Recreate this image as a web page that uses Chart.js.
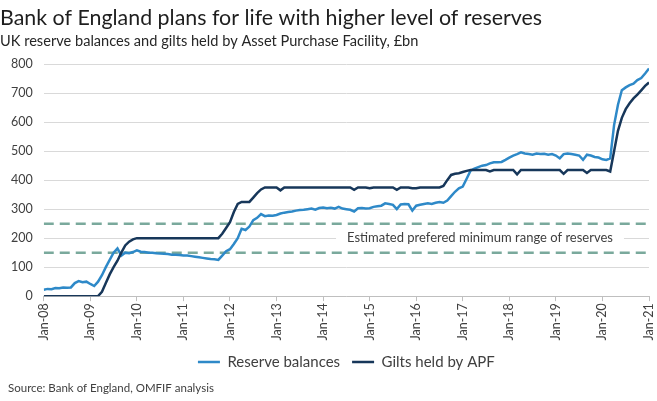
<!DOCTYPE html>
<html>
<head>
<meta charset="utf-8">
<script src="https://cdn.jsdelivr.net/npm/chart.js@4/dist/chart.umd.min.js"></script>
<style>
  html,body{margin:0;padding:0;background:#fff;}
  #wrap{position:relative;width:657px;height:401px;}
</style>
</head>
<body>
<div id="wrap"><canvas id="c" width="657" height="401"></canvas></div>
<script>
// ---- data ----
const startYear = 2008;
const yearLabels = ["Jan-08","Jan-09","Jan-10","Jan-11","Jan-12","Jan-13","Jan-14","Jan-15","Jan-16","Jan-17","Jan-18","Jan-19","Jan-20","Jan-21"];
// monthly values, Jan 2008 .. Jan 2021 (£bn)
const reserveBalances = [
  22,25,24,28,27,30,29,30,45,52,48,50,
  42,35,50,72,100,125,150,165,140,150,148,152,
  158,153,152,150,150,148,147,146,145,143,143,142,
  140,140,138,136,134,132,130,128,127,125,140,155,
  162,180,200,232,228,240,262,270,283,276,278,277,
  280,285,288,290,292,295,297,298,300,302,298,304,
  306,303,305,302,308,302,300,298,292,303,304,302,
  303,308,310,312,320,318,315,300,316,318,317,295,
  312,315,318,320,318,322,325,322,330,345,360,372,
  378,405,433,440,445,450,452,458,462,462,463,470,
  478,485,490,496,492,490,488,492,490,491,488,490,
  485,475,490,492,490,488,485,470,488,485,480,478,
  472,470,475,590,660,710,720,728,733,745,752,768,
  785
];
const giltsHeldByAPF = [
  0,0,0,0,0,0,0,0,0,0,0,0,
  0,0,0,15,45,75,100,122,150,175,188,196,
  200,200,200,200,200,200,200,200,200,200,200,200,
  200,200,200,200,200,200,200,200,200,200,215,235,
  255,290,318,325,325,325,340,355,368,375,375,375,
  375,365,375,375,375,375,375,375,375,375,375,375,
  375,375,375,375,375,375,375,375,367,375,375,375,
  372,375,375,375,375,375,375,367,375,375,375,372,
  372,375,375,375,375,375,375,380,400,418,422,424,
  428,432,435,435,435,435,435,430,435,435,435,435,
  435,435,420,435,435,435,435,435,435,435,435,435,
  435,435,422,435,435,435,435,435,425,435,435,435,
  435,435,430,500,570,615,645,665,682,695,710,725,
  737
];
const reserveRange = [150, 250];
const rangeLabel = "Estimated prefered minimum range of reserves";
const rangeLabelPos = {x: 2017.37, y: 200};

const toPoints = arr => arr.map((v, i) => ({x: startYear + i / 12, y: v}));
const endYear = startYear + yearLabels.length - 1;

const FONT = "Lato, 'Open Sans', sans-serif";
const TXT = "#404040";

const rangeLabelPlugin = {
  id: 'rangeLabel',
  beforeDatasetsDraw(chart) {
    const {ctx, scales} = chart;
    const x = scales.x.getPixelForValue(rangeLabelPos.x);
    const y = scales.y.getPixelForValue(rangeLabelPos.y);
    ctx.save();
    ctx.font = "13px " + FONT;
    const w = ctx.measureText(rangeLabel).width;
    ctx.fillStyle = "#ffffff";
    ctx.fillRect(x - w / 2 - 11, y - 8, w + 22, 16);
    ctx.fillStyle = TXT;
    ctx.textAlign = "center";
    ctx.textBaseline = "middle";
    ctx.fillText(rangeLabel, x, y);
    ctx.restore();
  }
};
const sourcePlugin = {
  id: 'sourceText',
  afterDraw(chart) {
    const ctx = chart.ctx;
    ctx.save();
    ctx.font = "11.5px " + FONT;
    ctx.fillStyle = TXT;
    ctx.textBaseline = "middle";
    ctx.fillText("Source: Bank of England, OMFIF analysis", 8, 388);
    ctx.restore();
  }
};

const dashed = (v) => ({
  label: "range" + v,
  data: [{x: startYear, y: v}, {x: endYear, y: v}],
  borderColor: "#7aa99c",
  borderWidth: 2.5,
  borderDash: [10, 6],
  pointRadius: 0,
  order: 3
});

new Chart(document.getElementById('c'), {
  type: 'line',
  data: {
    datasets: [
      {
        label: "Reserve balances",
        data: toPoints(reserveBalances),
        borderColor: "#2e89c8",
        backgroundColor: "#2e89c8",
        borderWidth: 2.5,
        pointRadius: 0,
        tension: 0,
        order: 2
      },
      {
        label: "Gilts held by APF",
        data: toPoints(giltsHeldByAPF),
        borderColor: "#17375a",
        backgroundColor: "#17375a",
        borderWidth: 2.5,
        pointRadius: 0,
        tension: 0,
        order: 1
      },
      dashed(reserveRange[0]),
      dashed(reserveRange[1])
    ]
  },
  options: {
    responsive: false,
    animation: false,
    devicePixelRatio: 1,
    layout: {padding: {left: 0, right: 0, top: 0, bottom: 21.5}},
    plugins: {
      title: {
        display: true,
        text: "Bank of England plans for life with higher level of reserves",
        align: 'start',
        color: "#1e1e1e",
        font: {family: FONT, size: 21.4, weight: 'normal'},
        padding: {top: 5, bottom: 0}
      },
      subtitle: {
        display: true,
        text: "UK reserve balances and gilts held by Asset Purchase Facility, £bn",
        align: 'start',
        color: "#262626",
        font: {family: FONT, size: 14.6},
        padding: {top: 2, bottom: 14}
      },
      legend: {
        position: 'bottom',
        fullSize: false,
        labels: {
          filter: item => item.datasetIndex < 2,
          sort: (a, b) => a.datasetIndex - b.datasetIndex,
          usePointStyle: true,
          pointStyle: 'line',
          pointStyleWidth: 22,
          color: TXT,
          font: {family: FONT, size: 15},
          padding: 12
        }
      },
      tooltip: {enabled: false}
    },
    scales: {
      x: {
        type: 'linear',
        min: startYear,
        max: endYear,
        afterFit: (scale) => { scale.paddingRight = 8; scale.paddingLeft = 0; },
        ticks: {
          stepSize: 1,
          autoSkip: false,
          maxRotation: 90,
          minRotation: 90,
          color: TXT,
          font: {family: FONT, size: 12.5},
          padding: 2,
          callback: (v) => yearLabels[Math.round(v - startYear)]
        },
        grid: {drawOnChartArea: false, drawTicks: true, tickLength: 5, color: "#bfbfbf"},
        border: {display: true, color: "#bfbfbf"}
      },
      y: {
        min: 0,
        max: 800,
        ticks: {stepSize: 100, color: TXT, font: {family: FONT, size: 12.5}, padding: 11},
        grid: {color: "#d9d9d9", drawTicks: false},
        border: {display: false}
      }
    }
  },
  plugins: [rangeLabelPlugin, sourcePlugin]
});
</script>
</body>
</html>
